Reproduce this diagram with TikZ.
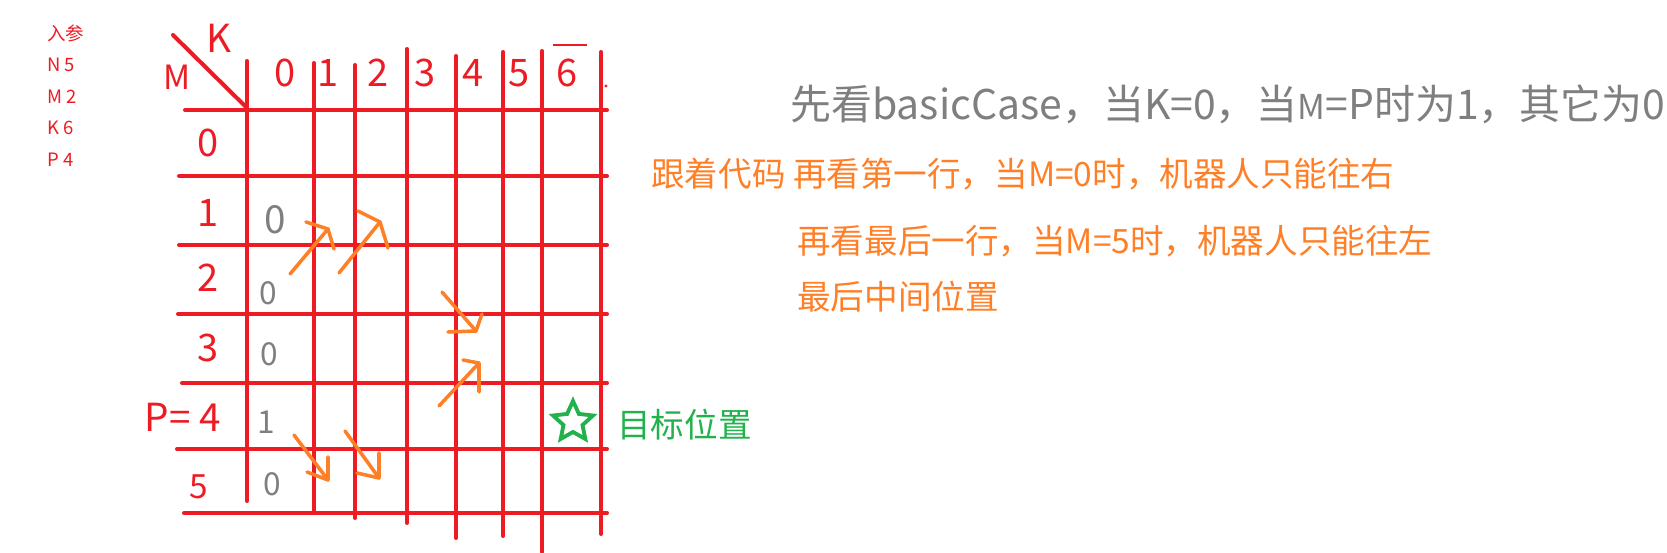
\documentclass[tikz,border=0pt]{standalone}
\usepackage{fontspec}
\setmainfont{Noto Sans CJK SC}
\usepackage{tikz}
\usetikzlibrary{shapes.geometric}
\definecolor{gRed}{HTML}{ED1C24}
\definecolor{gOrange}{HTML}{FF7F27}
\definecolor{gGreen}{HTML}{22B14C}
\definecolor{gGray}{HTML}{7F7F7F}

\begin{document}
\begin{tikzpicture}[
    x=0.02cm, y=-0.02cm,
    grid/.style={gRed, line width=2.3pt, line cap=round},
    arw/.style={gOrange, line width=2pt, line cap=round, line join=round},
    hd/.style={text=gRed, inner sep=0pt, font={\fontsize{21.6pt}{24pt}\selectfont}},
    val/.style={text=gGray, inner sep=0pt, font={\fontsize{18pt}{20pt}\selectfont}},
    param/.style={text=gRed, anchor=west, inner sep=0pt, font={\fontsize{10.5pt}{12pt}\selectfont}},
    note/.style={text=gOrange, anchor=base west, inner sep=0pt, font={\fontsize{19.1pt}{22pt}\selectfont}}
  ]
  \useasboundingbox (0,0) rectangle (1667,553);

  % input parameters
  \node[param] (inp) at (47,33)  {入参};
  \node[param] (pn)  at (47,65)  {N 5};
  \node[param] (pm)  at (47,97)  {M 2};
  \node[param] (pk)  at (47,128) {K 6};
  \node[param] (pp)  at (47,160) {P 4};

  % the table
  \foreach \x/\ya/\yb in {247/61/501, 314/63/512, 355/65/518, 407/49/523,
                          456/56/538, 503/52/536, 542/51/552, 601/52/534}
    \draw[grid] (\x,\ya) -- (\x,\yb);
  \foreach \y/\xa in {110/185, 176/179, 245/179, 314/178, 383/182, 449/177, 513/184}
    \draw[grid] (\xa,\y) -- (607,\y);
  \draw[grid] (173,35) -- (246,107);

  \node[hd, font={\fontsize{19pt}{22pt}\selectfont}] (mlab) at (177,77) {M};
  \node[hd, font={\fontsize{22pt}{24pt}\selectfont}] (klab) at (219,38) {K};
  \foreach \c/\x in {0/285, 1/328, 2/378, 3/425, 4/473, 5/519, 6/567}
    \node[hd] (k\c) at (\x,73) {\c};
  \draw[gRed, line width=0.6pt] (553,45) -- (587,45);
  \fill[gRed] (606,86) circle (1.6);

  \foreach \r/\y in {0/143, 1/213, 2/278, 3/348}
    \node[hd] (m\r) at (208,\y) {\r};
  \node[hd, font={\fontsize{22pt}{24pt}\selectfont}] (m4) at (183,417) {P= 4};
  \node[hd, font={\fontsize{19pt}{22pt}\selectfont}] (m5) at (199,487) {5};

  \node[val, font={\fontsize{22pt}{24pt}\selectfont}] (v1) at (275,220) {0};
  \node[val] (v2) at (268,293) {0};
  \node[val] (v3) at (269,354) {0};
  \node[val] (v4) at (266,422) {1};
  \node[val] (v5) at (272,484) {0};

  % robot moves
  \foreach \i/\sx/\sy/\tx/\ty/\ax/\ay/\bx/\by in {
      1/290/274/328/229/306/222/334/249,
      2/339/273/380/222/358/211/388/248,
      3/442/292/476/331/448/332/482/314,
      4/439/406/479/363/463/360/479/392,
      5/294/435/328/480/307/472/328/457,
      6/345/431/379/478/357/473/379/453} {
    \coordinate (s\i) at (\sx,\sy);
    \coordinate (t\i) at (\tx,\ty);
    \draw[arw] (s\i) -- (t\i);
    \draw[arw] (\ax,\ay) -- (t\i) -- (\bx,\by);
  }

  \node[star, star points=5, star point ratio=2.1, draw=gGreen, line width=2.2pt,
        inner sep=0pt, minimum size=0.84cm] (goal) at (573,422) {};
  \node[note, text=gGreen] (goaltxt) at (617,438) {目标位置};

  % notes
  \node[anchor=base west, inner sep=0pt, text=gGray, font={\fontsize{23.3pt}{26pt}\selectfont}]
    (basic) at (790,120) {先看basicCase，当K=0，当{\fontsize{19.5pt}{22pt}\selectfont M}=P时为1，其它为0};
  \node[note] (row0) at (651,187) {跟着代码 再看第一行，当M=0时，机器人只能往右};
  \node[note] (row5) at (797,254) {再看最后一行，当M=5时，机器人只能往左};
  \node[note] (mid)  at (797,310) {最后中间位置};
\end{tikzpicture}
\end{document}
